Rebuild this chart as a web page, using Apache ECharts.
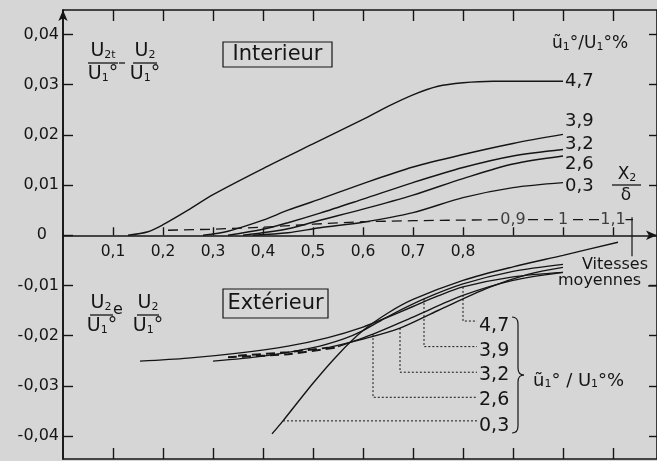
<!DOCTYPE html>
<html><head><meta charset="utf-8">
<script src="https://cdn.jsdelivr.net/npm/echarts@6/dist/echarts.min.js"></script>
<style>html,body{margin:0;padding:0;background:#d6d6d6}#c{width:657px;height:461px}</style>
</head><body><div id="c"></div>
<script>
// ---------- data ----------
const xTicks = [0.1,0.2,0.3,0.4,0.5,0.6,0.7,0.8,0.9,1.0,1.1];
const xLabelTicks = [0.1,0.2,0.3,0.4,0.5,0.6,0.7,0.8];
const yTicks = [-0.04,-0.03,-0.02,-0.01,0,0.01,0.02,0.03,0.04];

// Interieur curves (parameter ũ1/U1 %)
const int_4_7 = [[0.13,0],[0.17,0.0007],[0.2,0.0021],[0.25,0.0050],[0.3,0.0081],[0.4,0.0133],[0.5,0.0182],[0.6,0.0231],[0.65,0.0257],[0.7,0.0280],[0.75,0.0297],[0.8,0.0304],[0.86,0.0307],[1.0,0.0307]];
const int_3_9 = [[0.28,0],[0.33,0.0008],[0.4,0.0030],[0.45,0.0050],[0.514,0.0072],[0.6,0.0103],[0.7,0.0136],[0.8,0.0161],[0.9,0.0183],[1.0,0.0201]];
const int_3_2 = [[0.33,0],[0.4,0.0012],[0.45,0.0025],[0.514,0.0044],[0.6,0.0072],[0.7,0.0105],[0.8,0.0135],[0.9,0.0158],[1.0,0.0171]];
const int_2_6 = [[0.36,0],[0.45,0.0013],[0.514,0.0030],[0.6,0.0052],[0.7,0.0080],[0.8,0.0113],[0.9,0.0142],[1.0,0.0158]];
const int_0_3 = [[0.38,0],[0.45,0.0005],[0.514,0.0015],[0.6,0.0026],[0.7,0.0045],[0.8,0.0075],[0.9,0.0095],[1.0,0.0105]];

// X2/δ secondary scale (dashed), null = gap for a label
const xdLine = [[0.21,0.0010],[0.3,0.0012],[0.4,0.0016],[0.5,0.0022],[0.6,0.0027],[0.7,0.0029],[0.87,0.0031],null,[0.93,0.0031],[0.98,0.0031],null,[1.02,0.0031],[1.075,0.0031],null,[1.125,0.0031],[1.14,0.0031]];
const xdLabels = ['0,9','1','1,1'];
const xdLabelX = [0.9,1.0,1.1];
const xdLabelY = 0.0031;

// Exterieur curves
const ext_0_3 = [[0.418,-0.0396],[0.44,-0.0370],[0.5,-0.0295],[0.55,-0.0238],[0.6,-0.0190],[0.65,-0.0155],[0.7,-0.0128],[0.8,-0.0090],[0.9,-0.0063],[1.0,-0.0040],[1.11,-0.0014]];
const ext_4_7 = [[0.154,-0.0251],[0.25,-0.0245],[0.35,-0.0235],[0.45,-0.0221],[0.53,-0.0204],[0.6,-0.0183],[0.65,-0.0163],[0.7,-0.0142],[0.75,-0.0121],[0.8,-0.0103],[0.9,-0.0083],[1.0,-0.0074]];
const ext_3_9 = [[0.30,-0.0251],[0.4,-0.0241],[0.5,-0.0224],[0.56,-0.0207],[0.6,-0.0190],[0.65,-0.0162],[0.722,-0.0127],[0.8,-0.0097],[0.9,-0.0072],[1.0,-0.0058]];
const ext_3_2_dash = [[0.35,-0.0240],[0.45,-0.0233],[0.53,-0.0224]];
const ext_3_2 = [[0.53,-0.0224],[0.6,-0.0207],[0.674,-0.0185],[0.75,-0.0150],[0.85,-0.0105],[0.93,-0.0078],[1.0,-0.0064]];
const ext_2_6_dash = [[0.33,-0.0243],[0.45,-0.0237],[0.55,-0.0223]];
const ext_2_6 = [[0.55,-0.0222],[0.62,-0.0197],[0.7,-0.0163],[0.8,-0.0120],[0.9,-0.0090],[1.0,-0.0074]];

// leader lines of exterior labels
const lead_4_7 = [[0.8,-0.0103],[0.8,-0.0171],[0.828,-0.0171]];
const lead_3_9 = [[0.722,-0.0127],[0.722,-0.0222],[0.828,-0.0222]];
const lead_3_2 = [[0.674,-0.0185],[0.674,-0.0273],[0.828,-0.0273]];
const lead_2_6 = [[0.62,-0.0197],[0.62,-0.0323],[0.828,-0.0323]];
const lead_0_3 = [[0.44,-0.0370],[0.828,-0.0370]];
const vitPointer = [[1.138,0.0036],[1.138,-0.0042]];

const intLabels = ['4,7','3,9','3,2','2,6','0,3'];
const extLabels = ['4,7','3,9','3,2','2,6','0,3'];

// ---------- chart ----------
const FF = 'DejaVu Sans';
const INK = '#151515';
const Y_MIN = -0.0446, Y_MAX = 0.0449, X_MAX = 1.188;
const GRID = {left:63, right:0, top:10, bottom:2};
const H = 461 - GRID.top - GRID.bottom;
const zeroOffset = -H * (0 - Y_MIN) / (Y_MAX - Y_MIN);

const chart = echarts.init(document.getElementById('c'), null, {renderer:'canvas'});
const fmt = v => Math.abs(v) < 1e-9 ? '{z|0}' : (Math.round(v*100)/100).toFixed(2).replace('.', ',');
const xfmt = v => (Math.round(v*10)/10).toFixed(1).replace('.', ',');

function curve(data, opts) {
  opts = opts || {};
  return {type:'line', data, xAxisIndex:0, yAxisIndex:0, showSymbol:false, symbol:'none',
    smooth: opts.smooth === undefined ? 0.3 : opts.smooth,
    lineStyle:{color:INK, width: opts.width || 1.4, type: opts.type || 'solid'}, silent:true, z: opts.z || 3};
}
function splitNull(arr){ const out=[[]]; arr.forEach(p=>{ if(p===null) out.push([]); else out[out.length-1].push(p);}); return out; }

const series = [];
[int_4_7,int_3_9,int_3_2,int_2_6,int_0_3].forEach(d=>series.push(curve(d)));
splitNull(xdLine).forEach(d=>series.push(curve(d,{smooth:false,type:[10,6],width:1.3})));
series.push({type:'scatter', data: xdLabelX.map((x,i)=>[x,xdLabelY,xdLabels[i]]), symbol:'circle', symbolSize:1,
  itemStyle:{color:'rgba(0,0,0,0)'},
  label:{show:true, position:'inside', formatter:p=>p.data[2], fontFamily:FF, fontSize:16, color:INK}, silent:true});
[ext_0_3,ext_4_7,ext_3_9,ext_3_2,ext_2_6].forEach(d=>series.push(curve(d)));
[ext_3_2_dash,ext_2_6_dash].forEach(d=>series.push(curve(d,{type:[9,5],width:2})));
[lead_4_7,lead_3_9,lead_3_2,lead_2_6,lead_0_3].forEach(d=>series.push(curve(d,{smooth:false,type:[2,2],width:1})));
series.push(curve(vitPointer,{smooth:false,width:1.2}));

const rich = { s:{fontFamily:FF,fontSize:11,lineHeight:11,verticalAlign:'bottom',fill:INK} };
function t(x,y,text,size,align,valign){
  return {type:'text', x, y, silent:true, z:20, style:{text, fontFamily:FF, fontSize:size, fill:INK, align:align||'left', verticalAlign:valign||'middle', rich}};
}
function ln(x1,y1,x2,y2,w){ return {type:'line', silent:true, z:20, shape:{x1,y1,x2,y2}, style:{stroke:INK, lineWidth:w||1.3}}; }
function bz(x1,y1,cx,cy,x2,y2){ return {type:'bezierCurve', silent:true, z:20, shape:{x1,y1,cpx1:cx,cpy1:cy,x2,y2}, style:{stroke:INK, lineWidth:1.2, fill:null}}; }

const graphics = [
  {type:'rect', shape:{x:223,y:42,width:109,height:25}, style:{fill:'rgba(0,0,0,0)', stroke:INK, lineWidth:1.2}, silent:true},
  t(277.5,55,'Interieur',21,'center','middle'),
  {type:'rect', shape:{x:223,y:289,width:105,height:29}, style:{fill:'rgba(0,0,0,0)', stroke:INK, lineWidth:1.2}, silent:true},
  t(275.5,304,'Extérieur',21,'center','middle'),
  t(103,61,'U{s|2t}',19,'center','bottom'), ln(88,63,118,63,1.3), t(103,65,'U{s|1}°',19,'center','top'),
  ln(119,63,125,63,1.3),
  t(145,61,'U{s|2}',19,'center','bottom'), ln(133,63,157,63,1.3), t(145,65,'U{s|1}°',19,'center','top'),
  t(101,313,'U{s|2}',19,'center','bottom'), ln(90,315,113,315,1.3), t(102,317,'U{s|1}°',19,'center','top'),
  t(118,310,'e',16,'center','middle'),
  t(148,313,'U{s|2}',19,'center','bottom'), ln(137,315,159,315,1.3), t(148,317,'U{s|1}°',19,'center','top'),
  t(552,44,'ũ{s|1}°/U{s|1}°%',17,'left','middle'),
  t(627,175,'X{s|2}',17,'center','middle'), ln(612,185,641,185,1.3), t(626,196,'δ',17,'center','middle'),
  t(582,265,'Vitesses',16,'left','middle'),
  t(558,281,'moyennes',16,'left','middle'),
  ln(648,286,657,286,1.2),
  bz(512,317,518,317,518,324), ln(518,324,518,368,1.2), bz(518,368,518,375,524,375),
  bz(524,375,518,375,518,382), ln(518,382,518,426,1.2), bz(518,426,518,433,512,433),
  t(533,381,'ũ{s|1}° / U{s|1}°%',18,'left','middle')
];
const intLabY = [81,121,144,164,186];
intLabels.forEach((s,i)=>graphics.push(t(565,intLabY[i],s,18,'left','middle')));
const extLabY = [326,351,375,400,426];
extLabels.forEach((s,i)=>graphics.push(t(479,extLabY[i],s,19,'left','middle')));

chart.setOption({
  animation:false,
  backgroundColor:'#d6d6d6',
  grid:Object.assign({show:true, borderColor:INK, borderWidth:1.6, backgroundColor:'rgba(0,0,0,0)', containLabel:false, outerBoundsMode:'none'}, GRID),
  xAxis:[
    {type:'value', min:0, max:X_MAX, position:'bottom', offset: zeroOffset,
      axisLine:{show:true, onZero:false, lineStyle:{color:INK,width:1.6}, symbol:['none','arrow'], symbolSize:[7,11]},
      axisTick:{show:true, inside:true, length:8, customValues:xTicks, lineStyle:{color:INK,width:1.4}},
      axisLabel:{show:true, customValues:xLabelTicks, formatter:xfmt, margin:9, fontFamily:FF, fontSize:15.5, color:INK},
      splitLine:{show:false}},
    {type:'value', min:0, max:X_MAX, position:'top',
      axisLine:{show:false, onZero:false}, axisTick:{show:true, inside:true, length:11, customValues:xTicks, lineStyle:{color:INK,width:1.4}},
      axisLabel:{show:false}, splitLine:{show:false}},
    {type:'value', min:0, max:X_MAX, position:'bottom',
      axisLine:{show:false, onZero:false}, axisTick:{show:true, inside:true, length:11, customValues:xTicks, lineStyle:{color:INK,width:1.4}},
      axisLabel:{show:false}, splitLine:{show:false}}
  ],
  yAxis:[
    {type:'value', min:Y_MIN, max:Y_MAX, position:'left',
      axisLine:{show:true, onZero:false, lineStyle:{color:INK,width:1.6}, symbol:['none','arrow'], symbolSize:[7,11]},
      axisTick:{show:true, inside:true, length:10, customValues:yTicks, lineStyle:{color:INK,width:1.4}},
      axisLabel:{show:true, customValues:yTicks, formatter:fmt, margin:4, fontFamily:FF, fontSize:16, color:INK,
        rich:{z:{fontFamily:FF, fontSize:16, color:INK, padding:[0,12,0,0]}}},
      splitLine:{show:false}},
    {type:'value', min:Y_MIN, max:Y_MAX, position:'right',
      axisLine:{show:false, onZero:false}, axisTick:{show:true, inside:true, length:8, customValues:yTicks, lineStyle:{color:INK,width:1.4}},
      axisLabel:{show:false}, splitLine:{show:false}}
  ],
  series,
  graphic: graphics
});
</script></body></html>
